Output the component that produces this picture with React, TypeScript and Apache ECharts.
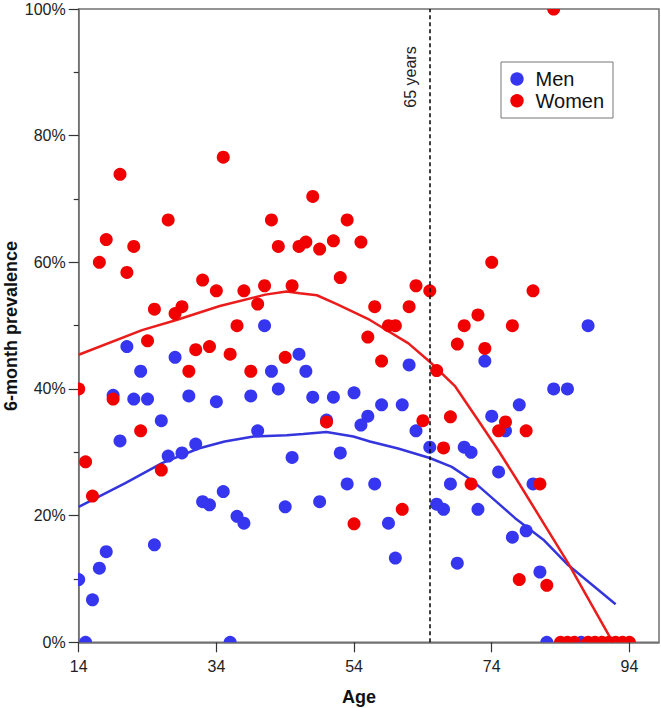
import React, { useEffect, useRef } from "react";
import * as echarts from "echarts";

// Scatter data (age, 6-month prevalence %)
const menAges = [14,15,16,17,18,19,20,21,22,23,24,25,26,27,28,29,30,31,32,33,34,35,36,37,38,39,40,41,42,43,44,45,46,47,48,49,50,51,52,53,54,55,56,57,58,59,60,61,62,63,65,66,67,68,69,70,71,72,73,74,75,76,77,78,79,80,81,82,83,85,87,88];
const menPrev = [9.9,0,6.7,11.7,14.3,39.0,31.8,46.7,38.4,42.8,38.4,15.4,35.0,29.4,45.0,29.9,38.9,31.3,22.2,21.7,38.0,23.8,0,19.9,18.8,38.9,33.4,50.0,42.8,40.0,21.4,29.2,45.5,42.8,38.7,22.2,35.1,38.7,29.9,25.0,39.4,34.3,35.7,25.0,37.5,18.8,13.3,37.5,43.8,33.4,30.8,21.8,21.0,25.0,12.5,30.8,30.0,21.0,44.4,35.7,26.9,33.4,16.6,37.5,17.6,25.0,11.1,0,40.0,40.0,0,50.0];

const womenAges = [14,15,16,17,18,19,20,21,22,23,24,25,26,27,28,29,30,31,32,33,34,35,36,37,38,39,40,41,42,43,44,45,46,47,48,49,50,51,52,53,54,55,56,57,58,59,60,61,62,63,64,65,66,67,68,69,70,71,72,73,74,75,76,77,78,79,80,81,82,83,84,85,86,88,89,90,91,92,93,94];
const womenPrev = [40.0,28.5,23.1,60.0,63.6,38.4,73.9,58.4,62.5,33.4,47.6,52.6,27.2,66.7,51.9,53.0,42.8,46.2,57.2,46.7,55.5,76.6,45.5,50.0,55.5,42.8,53.4,56.3,66.7,62.5,45.0,56.3,62.5,63.2,70.4,62.1,34.8,63.4,57.6,66.7,18.7,63.2,48.2,53.0,44.4,50.0,50.0,21.0,53.0,56.3,35.0,55.5,42.9,30.7,35.6,47.1,50.0,25.0,51.7,46.4,60.0,33.4,34.8,50.0,9.9,33.4,55.5,25.0,9.0,100,0,0,0,0,0,0,0,0,0,0];

// Smoothed fits
const menFitAges = [14,20.7,26.1,31.4,35.2,39.4,44.2,46.6,50,53.9,56.3,60.4,65,68.2,71.1,75,77.4,81.5,85.1,92];
const menFitPrev = [21.4,25.1,28.3,30.6,31.7,32.5,32.7,32.9,33.2,32.5,31.7,30.6,29.1,27.7,25.6,21.9,19.6,16.2,12.2,6.0];
const womenFitAges = [14,23.2,28.2,34.5,41.1,44.2,46.1,48.6,51.5,54.4,56.3,61.9,65,68.7,72,74.9,77.4,85.1,91.6];
const womenFitPrev = [45.4,49.3,50.9,53.1,54.9,55.4,55.1,54.8,53.4,51.9,50.9,47.2,44.3,40.4,35.1,30.4,26.1,12.5,0];

const xTicks = [14, 34, 54, 74, 94];
const yTicks = [0, 20, 40, 60, 80, 100];
const refAge = 65;

const BLUE = "#3636f0";
const RED = "#f00000";
const BLUE_LINE = "#3535dd";
const RED_LINE = "#ea1c1c";
const FONT = "'Liberation Sans', Arial, sans-serif";
const AXIS = "#707070";

const zip = (a: number[], b: number[]) => a.map((v, i) => [v, b[i]]);

export default function App() {
  const ref = useRef<HTMLDivElement>(null);
  useEffect(() => {
    if (!ref.current) return;
    const chart = echarts.init(ref.current, undefined, { renderer: "svg" });
    const dot = (color: string) => (params: any, api: any) => {
      const p = api.coord([api.value(0), api.value(1)]);
      return { type: "circle", shape: { cx: p[0], cy: p[1], r: 6.5 }, style: { fill: color } };
    };
    chart.setOption({
      animation: false,
      textStyle: { fontFamily: FONT },
      grid: { left: 78.7, right: 2, top: 9, bottom: 65.7, show: true, borderColor: AXIS, borderWidth: 1.5, containLabel: false, outerBoundsMode: "none" },
      xAxis: {
        type: "value", min: 14, max: 98.3,
        axisLine: { show: true, lineStyle: { color: AXIS, width: 1.5 } },
        axisTick: { show: true, inside: false, length: 10, customValues: xTicks, lineStyle: { color: "#333", width: 1.2 } },
        axisLabel: { customValues: xTicks, margin: 16, fontSize: 16, color: "#222", fontFamily: FONT },
        splitLine: { show: false },
      },
      yAxis: {
        type: "value", min: 0, max: 100, interval: 20,
        axisLine: { show: true, lineStyle: { color: AXIS, width: 1.5 } },
        axisTick: { show: true, length: 10, lineStyle: { color: "#333", width: 1.2 } },
        minorTick: { show: true, splitNumber: 2, length: 5, lineStyle: { color: "#333", width: 1.2 } },
        axisLabel: { margin: 13, fontSize: 16, color: "#222", fontFamily: FONT, formatter: (v: number) => (yTicks.includes(v) ? v + "%" : "") },
        splitLine: { show: false },
      },
      series: [
        {
          type: "line", name: "Men fit", data: zip(menFitAges, menFitPrev), showSymbol: false, symbol: "none",
          lineStyle: { color: BLUE_LINE, width: 2.5 }, z: 2, silent: true,
          markLine: {
            silent: true, symbol: ["none", "none"], label: { show: false },
            lineStyle: { color: "#000", width: 1.5, type: [4, 3] },
            data: [{ xAxis: refAge }],
          },
        },
        {
          type: "line", name: "Women fit", data: zip(womenFitAges, womenFitPrev), showSymbol: false, symbol: "none",
          lineStyle: { color: RED_LINE, width: 2.5 }, z: 2, silent: true,
        },
        { type: "custom", name: "Men", clip: true, data: zip(menAges, menPrev), encode: { x: 0, y: 1 }, renderItem: dot(BLUE), z: 3 },
        { type: "custom", name: "Women", clip: true, data: zip(womenAges, womenPrev), encode: { x: 0, y: 1 }, renderItem: dot(RED), z: 4 },
      ],
      graphic: [
        { type: "text", x: 11, y: 326, rotation: Math.PI / 2, style: { text: "6-month prevalence", font: `bold 18px ${FONT}`, fill: "#111", align: "center", verticalAlign: "middle" } },
        { type: "text", x: 359, y: 696.5, style: { text: "Age", font: `bold 18px ${FONT}`, fill: "#111", align: "center", verticalAlign: "middle" } },
        { type: "text", x: 410, y: 77, rotation: Math.PI / 2, z: 10, style: { text: "65 years", font: `16px ${FONT}`, fill: "#222", align: "center", verticalAlign: "middle" } },
        { type: "rect", shape: { x: 501, y: 62, width: 112, height: 56 }, style: { fill: "#fff", stroke: "#777", lineWidth: 1 }, z: 10 },
        { type: "circle", shape: { cx: 517, cy: 79, r: 6.7 }, style: { fill: BLUE }, z: 11 },
        { type: "circle", shape: { cx: 517, cy: 100.7, r: 6.7 }, style: { fill: RED }, z: 11 },
        { type: "text", x: 535.5, y: 79, z: 11, style: { text: "Men", font: `20px ${FONT}`, fill: "#111", verticalAlign: "middle" } },
        { type: "text", x: 535.5, y: 101, z: 11, style: { text: "Women", font: `20px ${FONT}`, fill: "#111", verticalAlign: "middle" } },
      ],
    });
    return () => chart.dispose();
  }, []);
  return <div ref={ref} style={{ position: "absolute", left: 0, top: 0, width: 661, height: 708, background: "#fff" }} />;
}
